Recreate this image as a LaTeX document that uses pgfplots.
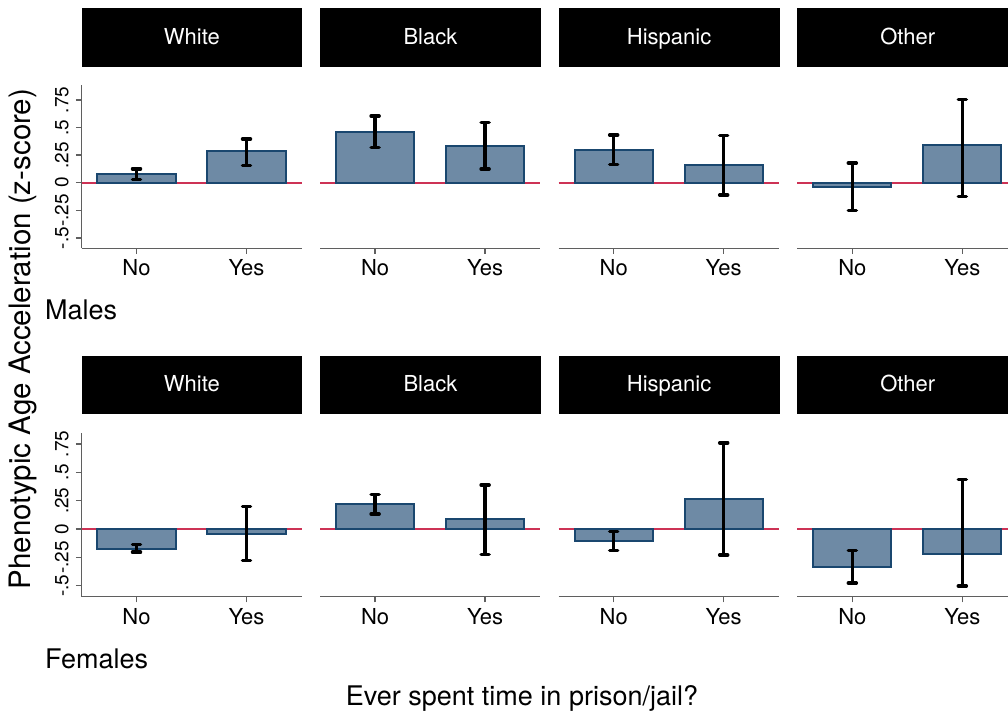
\documentclass[border=0pt]{standalone}
\usepackage{pgfplots}
\pgfplotsset{compat=1.18}
\usepackage{pgfplotstable}
\usepackage{fontspec}
\setmainfont{TeX Gyre Heros}

\definecolor{barfill}{RGB}{110,138,165}
\definecolor{baredge}{RGB}{26,71,111}
\definecolor{zlred}{RGB}{205,50,85}
\definecolor{axisgray}{RGB}{95,95,95}

% Mean phenotypic age acceleration with 95% CI (lo, hi); x: 1 = No, 2 = Yes
\pgfplotstableread{
x y lo hi
1 0.079 0.030 0.125
2 0.284 0.157 0.396
}\mWhite
\pgfplotstableread{
x y lo hi
1 0.462 0.317 0.604
2 0.335 0.124 0.546
}\mBlack
\pgfplotstableread{
x y lo hi
1 0.299 0.166 0.432
2 0.157 -0.112 0.426
}\mHispanic
\pgfplotstableread{
x y lo hi
1 -0.039 -0.251 0.178
2 0.338 -0.124 0.752
}\mOther
\pgfplotstableread{
x y lo hi
1 -0.180 -0.205 -0.135
2 -0.044 -0.277 0.200
}\fWhite
\pgfplotstableread{
x y lo hi
1 0.221 0.133 0.304
2 0.086 -0.227 0.387
}\fBlack
\pgfplotstableread{
x y lo hi
1 -0.109 -0.188 -0.023
2 0.269 -0.230 0.761
}\fHispanic
\pgfplotstableread{
x y lo hi
1 -0.333 -0.478 -0.188
2 -0.218 -0.504 0.437
}\fOther

\pgfplotsset{
  panel/.style={
    scale only axis, width=220bp, anchor=south west,
    xmin=0.5, xmax=2.5, xtick={1,2}, xticklabels={No,Yes},
    axis x line*=bottom, tick align=outside, major tick length=5.7bp,
    axis line style={axisgray, line width=1.3bp},
    every tick/.style={axisgray, line width=1.3bp},
    xticklabel style={font=\fontsize{22bp}{26bp}\selectfont, inner sep=0pt, anchor=north},
    xticklabel shift=5.5bp,
    clip=false,
  },
  toprow/.style={height=163.3bp, ymin=-0.594, ymax=0.885},
  botrow/.style={height=164bp, ymin=-0.598, ymax=0.850},
  firstcol/.style={
    axis y line*=left,
    ytick={-0.5,-0.25,0,0.25,0.5,0.75},
    yticklabels={-.5,-.25,0,.25,.5,.75},
    yticklabel style={font=\fontsize{19bp}{22bp}\selectfont, rotate=90, anchor=south, inner sep=0pt},
    yticklabel shift=7bp,
  },
  othercol/.style={axis y line=none},
  bars/.style={
    ybar, bar width=0.71, fill=barfill, draw=baredge, line width=2bp,
    error bars/.cd, y dir=both, y explicit,
    error bar style={line width=3.5bp, black},
    error mark options={rotate=90, black, line width=3.5bp, mark size=4bp, line cap=round},
  },
}

% #1 anchor position, #2 table, #3 row style, #4 column style
\newcommand\panel[4]{%
  \begin{axis}[panel, #3, #4, at={(#1)}]
    \addplot[zlred, line width=1.6bp] coordinates {(0.5,0) (2.5,0)};
    \addplot[bars] table[x=x, y=y,
      y error plus expr=\thisrow{hi}-\thisrow{y},
      y error minus expr=\thisrow{y}-\thisrow{lo}] {#2};
  \end{axis}}

\newcommand\headerrow[1]{% #1 = bottom of the header boxes
  \foreach \i/\lab in {0/White,1/Black,2/Hispanic,3/Other}{
    \fill[black] ({81.5bp+238.6bp*\i}, #1) rectangle ++(220.8bp, 58.7bp);
    \node[white, anchor=base, inner sep=0pt, font=\fontsize{22bp}{26bp}\selectfont]
      at ({81.5bp+238.6bp*\i+110.4bp}, {#1+22.4bp}) {\lab};
  }}

\begin{document}
\begin{tikzpicture}
  % Males
  \headerrow{646.3bp}
  \panel{81.5bp,464.7bp}{\mWhite}{toprow}{firstcol}
  \panel{320.1bp,464.7bp}{\mBlack}{toprow}{othercol}
  \panel{558.7bp,464.7bp}{\mHispanic}{toprow}{othercol}
  \panel{797.3bp,464.7bp}{\mOther}{toprow}{othercol}
  \node[anchor=base west, inner sep=0pt, font=\fontsize{27bp}{32bp}\selectfont] at (45bp,393bp) {Males};
  % Females
  \headerrow{298.7bp}
  \panel{81.5bp,116.3bp}{\fWhite}{botrow}{firstcol}
  \panel{320.1bp,116.3bp}{\fBlack}{botrow}{othercol}
  \panel{558.7bp,116.3bp}{\fHispanic}{botrow}{othercol}
  \panel{797.3bp,116.3bp}{\fOther}{botrow}{othercol}
  \node[anchor=base west, inner sep=0pt, font=\fontsize{27bp}{32bp}\selectfont] at (45bp,44.7bp) {Females};
  % Axis titles
  \node[anchor=base, inner sep=0pt, font=\fontsize{27bp}{32bp}\selectfont] at (522bp,7.6bp) {Ever spent time in prison/jail?};
  \node[anchor=base, rotate=90, inner sep=0pt, font=\fontsize{29.5bp}{34bp}\selectfont] at (30bp,374bp) {Phenotypic Age Acceleration (z-score)};
  \pgfresetboundingbox
  \path[use as bounding box] (0,0) rectangle (1008bp,713bp);
\end{tikzpicture}
\end{document}
